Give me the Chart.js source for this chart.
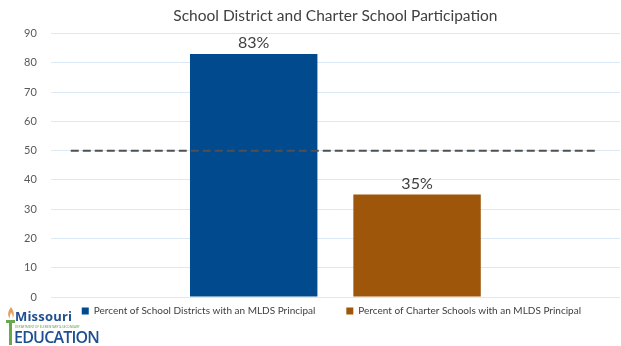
<!DOCTYPE html>
<html>
<head>
<meta charset="utf-8">
<script src="https://cdn.jsdelivr.net/npm/chart.js@4"></script>
<style>
  html, body { margin: 0; padding: 0; background: #fff; }
  #wrap { position: relative; width: 621px; height: 346px; }
  #logo { position: absolute; left: 6px; top: 306px; width: 100px; height: 40px; font-family: "Open Sans", sans-serif; }
  #logo .miss { position: absolute; left: 9px; top: 1px; font-size: 13px; font-weight: 700; color: #1d4f91; letter-spacing: 0.2px; }
  #logo .dept { position: absolute; left: 9px; top: 19px; font-size: 3px; color: #5a9a3c; white-space: nowrap; }
  #logo .edu { position: absolute; left: 8px; top: 20px; font-size: 16px; font-weight: 600; color: #1d4f91; letter-spacing: -0.8px; }
</style>
</head>
<body>
<div id="wrap">
  <canvas id="chart" width="621" height="346"></canvas>
  <div id="logo">
    <svg width="12" height="40" style="position:absolute;left:-1px;top:0">
      <path d="M6 1 C3 5 2 9 5 13 C4 10 6 8 6 6 C7 9 9 10 7 13 C10 10 9 5 6 1 Z" fill="#e0a060"/>
      <rect x="1" y="14" width="9" height="3" fill="#6aa84f"/>
      <rect x="4" y="17" width="3" height="22" fill="#6aa84f"/>
    </svg>
    <span class="miss">Missouri</span>
    <span class="dept">DEPARTMENT OF ELEMENTARY &amp; SECONDARY</span>
    <span class="edu">EDUCATION</span>
  </div>
</div>
<script>
// Chart data
const categories = [''];
const districtValues = [83];
const charterValues = [35];
const seriesLabels = [
    'Percent of School Districts with an MLDS Principal',
    'Percent of Charter Schools with an MLDS Principal'
];
const targetLine = 50;
const yTicks = [0, 10, 20, 30, 40, 50, 60, 70, 80, 90];

const FONT = 'Lato, "Open Sans", sans-serif';

// Dashed reference line across the plot
const targetPlugin = {
    id: 'targetLine',
    afterDatasetsDraw(chart) {
        const { ctx, chartArea, scales } = chart;
        const y = scales.y.getPixelForValue(targetLine);
        ctx.save();
        ctx.strokeStyle = '#505050';
        ctx.lineWidth = 2;
        ctx.setLineDash([8, 4]);
        ctx.beginPath();
        ctx.moveTo(chartArea.left + 20, y);
        ctx.lineTo(chartArea.right - 25, y);
        ctx.stroke();
        ctx.restore();
    }
};

// Percent labels above the bars
const valueLabels = {
    id: 'valueLabels',
    afterDatasetsDraw(chart) {
        const { ctx } = chart;
        ctx.save();
        ctx.fillStyle = '#404040';
        ctx.font = '16px ' + FONT;
        ctx.textAlign = 'center';
        ctx.textBaseline = 'bottom';
        chart.data.datasets.forEach((ds, i) => {
            chart.getDatasetMeta(i).data.forEach((bar, j) => {
                ctx.fillText(ds.data[j] + '%', bar.x, bar.y - 3);
            });
        });
        ctx.restore();
    }
};

// Pull the legend up close under the axis (keeps the wide item spacing)
const legendNudge = {
    id: 'legendNudge',
    afterLayout(chart) {
        const lg = chart.legend;
        const shift = lg.top + lg.options.labels.padding - (chart.chartArea.bottom + 9);
        lg.top -= shift;
        lg.bottom -= shift;
    }
};

new Chart(document.getElementById('chart').getContext('2d'), {
    type: 'bar',
    data: {
        labels: categories,
        datasets: [
            { label: seriesLabels[0], data: districtValues, backgroundColor: 'rgb(0, 74, 141)' },
            { label: seriesLabels[1], data: charterValues, backgroundColor: 'rgb(158, 87, 10)' }
        ]
    },
    options: {
        responsive: false,
        animation: false,
        layout: { padding: { top: 6, bottom: -2, right: 1, left: 10 } },
        categoryPercentage: 0.574,
        barPercentage: 0.78,
        plugins: {
            title: {
                display: true,
                text: 'School District and Charter School Participation',
                fullSize: false,
                color: '#404040',
                font: { family: FONT, size: 15.5, weight: 'normal' },
                padding: { top: 1, bottom: 8 }
            },
            legend: {
                position: 'bottom',
                align: 'start',
                fullSize: false,
                labels: {
                    boxWidth: 7,
                    boxHeight: 7,
                    padding: 31,
                    color: '#404040',
                    font: { family: FONT, size: 10 }
                }
            },
            tooltip: { enabled: false }
        },
        scales: {
            x: {
                display: false
            },
            y: {
                min: 0,
                max: 90,
                afterBuildTicks(axis) {
                    axis.ticks = yTicks.map(v => ({ value: v }));
                },
                grid: { color: '#dbe8f5', drawTicks: false },
                border: { display: false },
                ticks: {
                    color: '#595959',
                    padding: 14,
                    font: { family: FONT, size: 11 }
                }
            }
        }
    },
    plugins: [targetPlugin, valueLabels, legendNudge]
});
</script>
</body>
</html>
